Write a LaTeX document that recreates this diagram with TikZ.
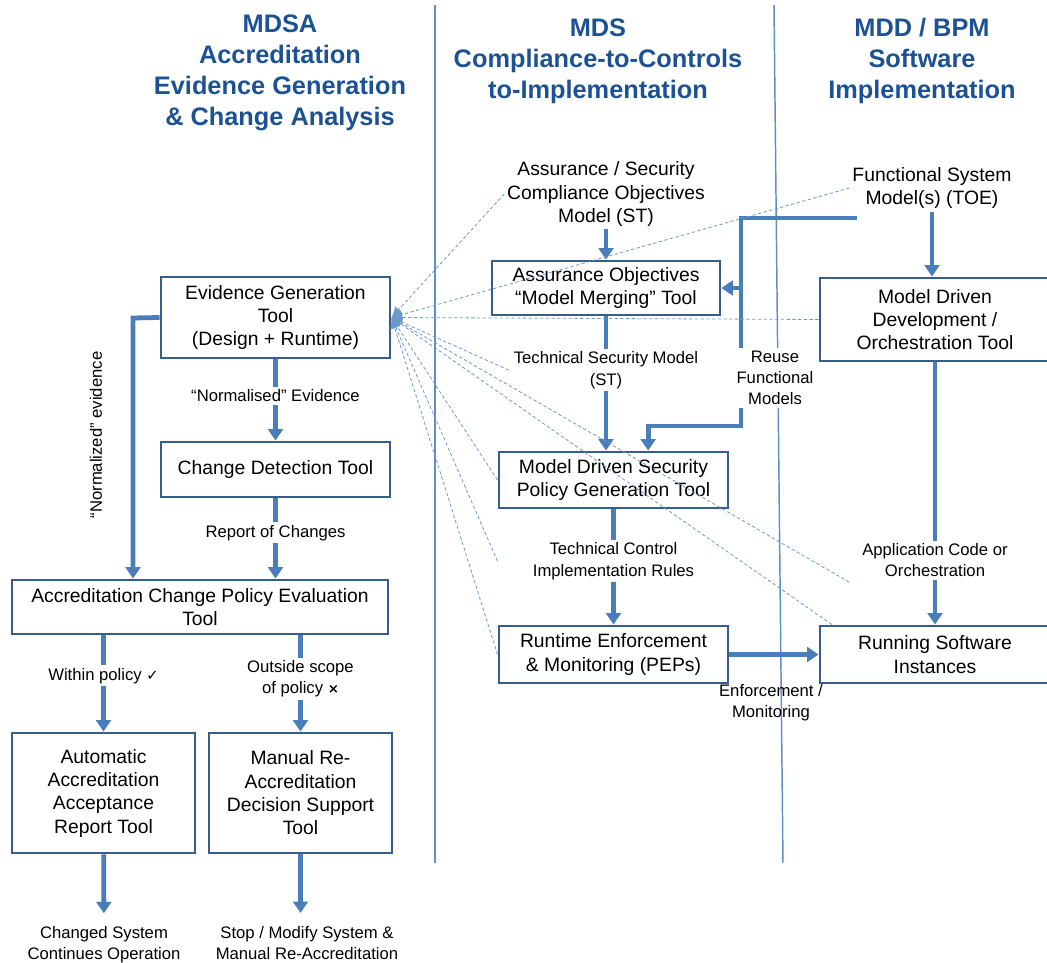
\documentclass[tikz,border=0pt]{standalone}
\usepackage{fontspec}
\setmainfont{Liberation Sans}
\newfontfamily\markfont{DejaVu Sans}
\usetikzlibrary{positioning,arrows.meta}

\definecolor{headblue}{RGB}{28,82,148}
\definecolor{boxblue}{RGB}{56,93,138}
\definecolor{arrowblue}{RGB}{74,126,187}
\definecolor{lineblue}{RGB}{96,142,200}

\begin{document}
\begin{tikzpicture}[x=0.75pt,y=-0.75pt,
            toolbox/.style={draw=boxblue, line width=2.2pt, align=center, inner sep=2pt, font=\fontsize{14.5}{17.5}\selectfont},
            infotext/.style={align=center, inner sep=2pt, font=\fontsize{14.5}{17.5}\selectfont},
            flowlabel/.style={align=center, fill=white, inner sep=2pt, font=\fontsize{12.5}{16}\selectfont},
            plainlabel/.style={align=center, inner sep=2pt, font=\fontsize{12.5}{15.5}\selectfont},
            headtext/.style={align=center, text=headblue, font=\fontsize{19}{23.25}\selectfont\bfseries},
            flowarrow/.style={draw=arrowblue, line width=3.6pt, -{Triangle[width=11pt,length=8.5pt]}},
            evidence/.style={draw=arrowblue!80, line width=0.6pt, dash pattern=on 2.5pt off 1.8pt, -{Latex[length=8pt,width=7pt]}},
            divider/.style={draw=lineblue, line width=1.1pt},
        ]
            \useasboundingbox (0,0) rectangle (1047,963);

            %Columns
            \draw[divider] (435,5) -- (435,863);
            \draw[divider] (774,5) -- (783,863);
            \node[headtext](mdsahead) at (280,73) {MDSA\\Accreditation\\Evidence Generation\\\& Change Analysis};
            \node[headtext](mdshead) at (598,61) {MDS\\Compliance-to-Controls\\to-Implementation};
            \node[headtext](mddhead) at (922,61) {MDD / BPM\\Software\\Implementation};

            %Nodes
            \node[toolbox, minimum width=171.75pt, minimum height=60.75pt](egt) at (275.5,317.5) {Evidence Generation\\Tool\\(Design + Runtime)};
            \node[toolbox, minimum width=171.75pt, minimum height=41.25pt](cdt) at (275.5,469.5) {Change Detection Tool};
            \node[toolbox, minimum width=282pt, minimum height=40.5pt](acpe) at (200,607) {Accreditation Change Policy Evaluation\\Tool};
            \node[toolbox, minimum width=137.25pt, minimum height=90pt](aart) at (103.5,793) {Automatic\\Accreditation\\Acceptance\\Report Tool};
            \node[toolbox, minimum width=137.25pt, minimum height=90pt](mrdst) at (300.5,793) {Manual Re-\\Accreditation\\Decision Support\\Tool};
            \node[plainlabel](cso) at (104,945) {Changed System\\Continues Operation};
            \node[plainlabel](smra) at (307,943) {Stop / Modify System \&\\Manual Re-Accreditation};

            \node[infotext](asc) at (606,194) {Assurance / Security\\Compliance Objectives\\Model (ST)};
            \node[toolbox, minimum width=171pt, minimum height=40.5pt](aomm) at (606,288) {Assurance Objectives\\“Model Merging” Tool};
            \node[toolbox, minimum width=171.75pt, minimum height=42pt](mdspg) at (613.5,480) {Model Driven Security\\Policy Generation Tool};
            \node[toolbox, minimum width=171.75pt, minimum height=42.75pt](rem) at (613.5,654.5) {Runtime Enforcement\\\& Monitoring (PEPs)};

            \node[infotext](fsm) at (932,188) {Functional System\\Model(s) (TOE)};
            \node[toolbox, minimum width=172.5pt, minimum height=62.25pt](mdd) at (935,319.5) {Model Driven\\Development /\\Orchestration Tool};
            \node[toolbox, minimum width=172.5pt, minimum height=42.75pt](rsi) at (935,654.5) {Running Software\\Instances};

            \coordinate (nevcorner) at (133,318);
            \coordinate (fsmout) at (857,218);
            \coordinate (reusetop) at (741,218);
            \coordinate (reusejoin) at (741,288);
            \coordinate (reusebot) at (741,426);

            %Lines
            \draw[flowarrow](egt) -- node[flowlabel, pos=0.45]{“Normalised” Evidence} (cdt);
            \draw[flowarrow](cdt) -- node[flowlabel, pos=0.43]{Report of Changes} (cdt |- acpe.north);
            \draw[flowarrow](egt.west) -- (nevcorner) -- (nevcorner |- acpe.north);
            \node[plainlabel, rotate=90](nevlabel) at (96,435) {“Normalized” evidence};
            \draw[flowarrow](aart.north |- acpe.south) -- node[flowlabel, pos=0.42]{Within policy {\markfont\fontsize{11}{11}\selectfont ✓}} (aart);
            \draw[flowarrow](mrdst.north |- acpe.south) -- node[flowlabel, pos=0.45]{Outside scope\\of policy {\markfont\fontsize{10}{10}\selectfont\bfseries ×}} (mrdst);
            \draw[flowarrow, shorten >=8pt](aart) -- (cso);
            \draw[flowarrow, shorten >=8pt](mrdst.south) -- (mrdst.south |- smra.north);

            \draw[flowarrow](asc) -- (aomm);
            \draw[flowarrow](aomm.south) -- node[flowlabel, pos=0.4](tsm){Technical Security Model\\(ST)} (aomm.south |- mdspg.north);
            \draw[flowarrow](mdspg) -- node[flowlabel, pos=0.45](tcir){Technical Control\\Implementation Rules} (rem);
            \draw[flowarrow](rem) -- (rsi);
            \node[plainlabel](enfmon) at (771,703) {Enforcement /\\Monitoring};

            \draw[flowarrow](fsm) -- (fsm |- mdd.north);
            \draw[flowarrow](mdd) -- node[flowlabel, pos=0.755](acode){Application Code or\\Orchestration} (rsi);
            \draw[flowarrow](fsmout) -- (reusetop) -- (reusebot) -| ([xshift=26pt]mdspg.north);
            \draw[flowarrow](reusejoin) -- (aomm.east);
            \node[flowlabel](reuse) at (775,378) {Reuse\\Functional\\Models};

            %Evidence feeds
            \foreach \src in {asc.west, fsm.west, mdd.west, tsm.west, mdspg.west, rem.west}
                \draw[evidence](\src) -- (egt.east);
            \draw[evidence](tcir.west -| mdspg.west) -- (egt.east);
            \draw[evidence]([xshift=-6pt]acode.south west) -- (egt.east);
            \draw[evidence]([xshift=10pt]rsi.north west) -- (egt.east);
        \end{tikzpicture}
\end{document}
